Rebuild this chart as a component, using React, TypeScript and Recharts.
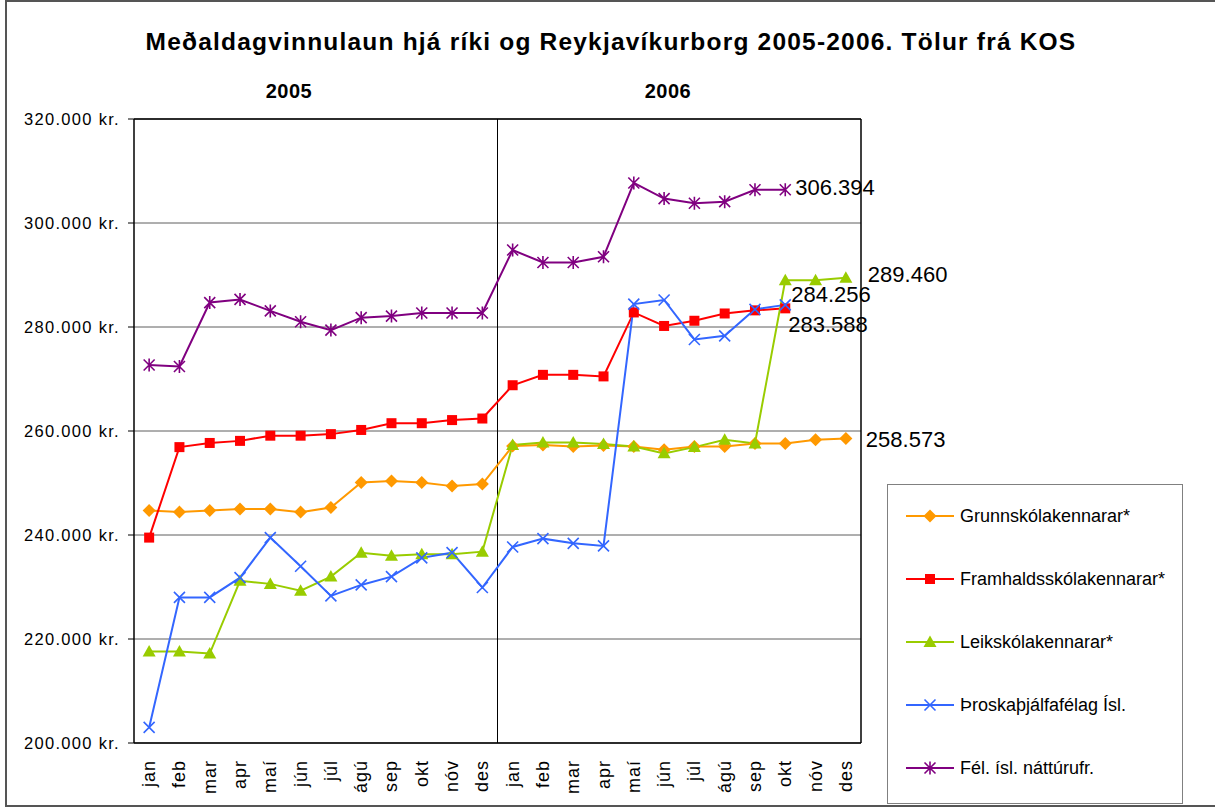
import {
  CartesianGrid,
  LabelList,
  Line,
  LineChart,
  ReferenceLine,
  XAxis,
  YAxis,
} from "recharts";

const FONT = '"Liberation Sans", Arial, sans-serif';

const monthNames = ["jan", "feb", "mar", "apr", "maí", "jún", "júl", "ágú", "sep", "okt", "nóv", "des"];
const months = [...monthNames, ...monthNames];
const yearLabels = ["2005", "2006"];
const yTicks = [200000, 220000, 240000, 260000, 280000, 300000, 320000];

const grunnskola = [
  244700, 244400, 244700, 245000, 245000, 244400, 245300, 250100, 250400, 250100, 249400, 249800,
  257100, 257300, 257000, 257200, 257000, 256400, 257000, 257000, 257600, 257600, 258300, 258573,
];
const framhalds = [
  239500, 256900, 257700, 258100, 259100, 259100, 259400, 260200, 261500, 261500, 262100, 262400,
  268800, 270800, 270800, 270500, 282800, 280200, 281200, 282600, 283200, 283588, null, null,
];
const leikskola = [
  217600, 217600, 217200, 231200, 230600, 229300, 232000, 236600, 236000, 236300, 236300, 236800,
  257300, 257800, 257800, 257500, 257000, 255700, 256900, 258300, 257600, 289000, 289000, 289460,
];
const throskathjalfar = [
  203000, 228000, 228000, 231800, 239500, 234000, 228300, 230400, 232000, 235600, 236600, 229900,
  237700, 239300, 238400, 237900, 284400, 285200, 277600, 278300, 283400, 284256, null, null,
];
const natturufr = [
  272700, 272400, 284700, 285300, 283100, 281000, 279400, 281800, 282100, 282700, 282700, 282700,
  294800, 292400, 292400, 293500, 307700, 304700, 303800, 304100, 306400, 306394, null, null,
];

const series = [
  { key: "grunn", name: "Grunnskólakennarar*", color: "#FF9900", shape: "diamond", values: grunnskola, dx: 20, dy: 1 },
  { key: "fram", name: "Framhaldsskólakennarar*", color: "#FF0000", shape: "square", values: framhalds, dx: 3, dy: 16 },
  { key: "leik", name: "Leikskólakennarar*", color: "#99CC00", shape: "triangle", values: leikskola, dx: 22, dy: -3 },
  { key: "thros", name: "Þroskaþjálfafélag Ísl.", color: "#3366FF", shape: "x", values: throskathjalfar, dx: 6, dy: -10 },
  { key: "natt", name: "Fél. ísl. náttúrufr.", color: "#800080", shape: "star", values: natturufr, dx: 10, dy: -2 },
];

const data = months.map((m, i) => {
  const row: Record<string, number | string | null> = { pos: i + 0.5, month: m };
  series.forEach((s) => {
    row[s.key] = s.values[i];
  });
  return row;
});

const monthTicks = months.map((_, i) => i + 0.5);

function formatKr(v: number): string {
  return `${Math.round(v / 1000)}.000 kr.`;
}

function formatLabel(v: number): string {
  const s = String(Math.round(v));
  return `${s.slice(0, s.length - 3)}.${s.slice(-3)}`;
}

function Marker({ shape, color, cx, cy }: { shape: string; color: string; cx: number; cy: number }) {
  if (shape === "diamond") {
    return <path d={`M${cx},${cy - 6.5}L${cx + 6.5},${cy}L${cx},${cy + 6.5}L${cx - 6.5},${cy}Z`} fill={color} />;
  }
  if (shape === "square") {
    return <rect x={cx - 5} y={cy - 5} width={10} height={10} fill={color} />;
  }
  if (shape === "triangle") {
    return <path d={`M${cx},${cy - 6.5}L${cx + 6.5},${cy + 5}L${cx - 6.5},${cy + 5}Z`} fill={color} />;
  }
  if (shape === "x") {
    return (
      <path
        d={`M${cx - 5.5},${cy - 5.5}L${cx + 5.5},${cy + 5.5}M${cx - 5.5},${cy + 5.5}L${cx + 5.5},${cy - 5.5}`}
        stroke={color}
        strokeWidth={1.6}
      />
    );
  }
  return (
    <path
      d={`M${cx - 5.5},${cy - 5.5}L${cx + 5.5},${cy + 5.5}M${cx - 5.5},${cy + 5.5}L${cx + 5.5},${cy - 5.5}M${cx},${cy - 6.5}L${cx},${cy + 6.5}`}
      stroke={color}
      strokeWidth={1.6}
    />
  );
}

function makeDot(shape: string, color: string) {
  return (props: any) => {
    const { cx, cy, index, value } = props;
    if (cx == null || cy == null || value == null) return <g key={`e-${index}`} />;
    return <Marker key={`d-${index}`} shape={shape} color={color} cx={cx} cy={cy} />;
  };
}

function MonthTick(props: any) {
  const { x, y, payload } = props;
  const label = months[Math.floor(payload.value)];
  const ty = y + 9;
  return (
    <text
      x={x}
      y={ty}
      transform={`rotate(-90, ${x}, ${ty})`}
      textAnchor="end"
      dominantBaseline="central"
      fontSize={18}
      letterSpacing={1}
      fontFamily={FONT}
      fill="#000"
    >
      {label}
    </text>
  );
}

function LegendBox() {
  return (
    <div
      style={{
        position: "absolute",
        left: 887,
        top: 484,
        width: 296,
        height: 320,
        border: "1px solid #808080",
        background: "#fff",
        boxSizing: "border-box",
      }}
    >
      {series.map((s, i) => (
        <div
          key={s.key}
          style={{
            position: "absolute",
            left: 18,
            top: 19 + i * 63,
            height: 24,
            display: "flex",
            alignItems: "center",
            fontFamily: FONT,
            fontSize: 18,
            color: "#000",
            whiteSpace: "nowrap",
          }}
        >
          <svg width={48} height={24} style={{ marginRight: 6 }}>
            <line x1={0} y1={12} x2={48} y2={12} stroke={s.color} strokeWidth={2} />
            <Marker shape={s.shape} color={s.color} cx={24} cy={12} />
          </svg>
          {s.name}
        </div>
      ))}
    </div>
  );
}

export default function App() {
  return (
    <div style={{ position: "absolute", left: 0, top: 0, width: 1215, height: 809, background: "#fff", fontFamily: FONT }}>
      <div
        style={{
          position: "absolute",
          left: 5,
          top: 0,
          width: 1215,
          height: 807,
          border: "2px solid #555",
          boxSizing: "border-box",
        }}
      />
      <div
        style={{
          position: "absolute",
          left: 0,
          width: 1222,
          top: 28,
          textAlign: "center",
          fontSize: 24.5,
          letterSpacing: 1.2,
          fontWeight: "bold",
          whiteSpace: "nowrap",
        }}
      >
        Meðaldagvinnulaun hjá ríki og Reykjavíkurborg 2005-2006. Tölur frá KOS
      </div>
      {yearLabels.map((yl, i) => (
        <div
          key={yl}
          style={{
            position: "absolute",
            left: i === 0 ? 239 : 618,
            width: 100,
            top: 80,
            textAlign: "center",
            fontSize: 20,
            letterSpacing: 0.5,
            fontWeight: "bold",
          }}
        >
          {yl}
        </div>
      ))}
      <div style={{ position: "absolute", left: 0, top: 0 }}>
        <LineChart width={1215} height={809} data={data} margin={{ top: 119, right: 354, bottom: 0, left: 4 }}>
          <CartesianGrid vertical={false} stroke="#5e5e5e" strokeWidth={1} />
          <XAxis
            xAxisId="years"
            dataKey="pos"
            type="number"
            domain={[0, 24]}
            ticks={[0, 12, 24]}
            height={0}
            axisLine={false}
            tickSize={6}
            tickLine={{ stroke: "#000" }}
            tickFormatter={() => ""}
            allowDataOverflow
          />
          <XAxis
            xAxisId="months"
            dataKey="pos"
            type="number"
            domain={[0, 24]}
            ticks={monthTicks}
            interval={0}
            height={66}
            axisLine={{ stroke: "#000", strokeWidth: 1.5 }}
            tickLine={false}
            tick={<MonthTick />}
            allowDataOverflow
          />
          <YAxis
            domain={[200000, 320000]}
            ticks={yTicks}
            width={130}
            axisLine={{ stroke: "#000", strokeWidth: 1.5 }}
            tickLine={{ stroke: "#000" }}
            tickSize={6}
            tickMargin={8}
            tickFormatter={formatKr}
            tick={{ fontSize: 16.5, letterSpacing: 1.3, fontFamily: FONT, fill: "#000" }}
            allowDataOverflow
          />
          <ReferenceLine xAxisId="years" x={12} stroke="#000" strokeWidth={1} />
          <ReferenceLine xAxisId="years" x={24} stroke="#000" strokeWidth={1.5} />
          <ReferenceLine xAxisId="years" y={320000} stroke="#000" strokeWidth={1.5} />
          {series.map((s) => {
            const last = s.values.reduce<number>((acc, v, i) => (v != null ? i : acc), 0);
            return (
              <Line
                key={s.key}
                xAxisId="months"
                dataKey={s.key}
                name={s.name}
                stroke={s.color}
                strokeWidth={2}
                dot={makeDot(s.shape, s.color)}
                activeDot={false}
                connectNulls={false}
                isAnimationActive={false}
              >
                <LabelList
                  dataKey={s.key}
                  content={(p: any) =>
                    p.index === last && p.value != null ? (
                      <text
                        x={p.x + s.dx}
                        y={p.y + s.dy}
                        dominantBaseline="central"
                        fontSize={22}
                        fontFamily={FONT}
                        fill="#000"
                      >
                        {formatLabel(p.value)}
                      </text>
                    ) : null
                  }
                />
              </Line>
            );
          })}
        </LineChart>
      </div>
      <LegendBox />
    </div>
  );
}
